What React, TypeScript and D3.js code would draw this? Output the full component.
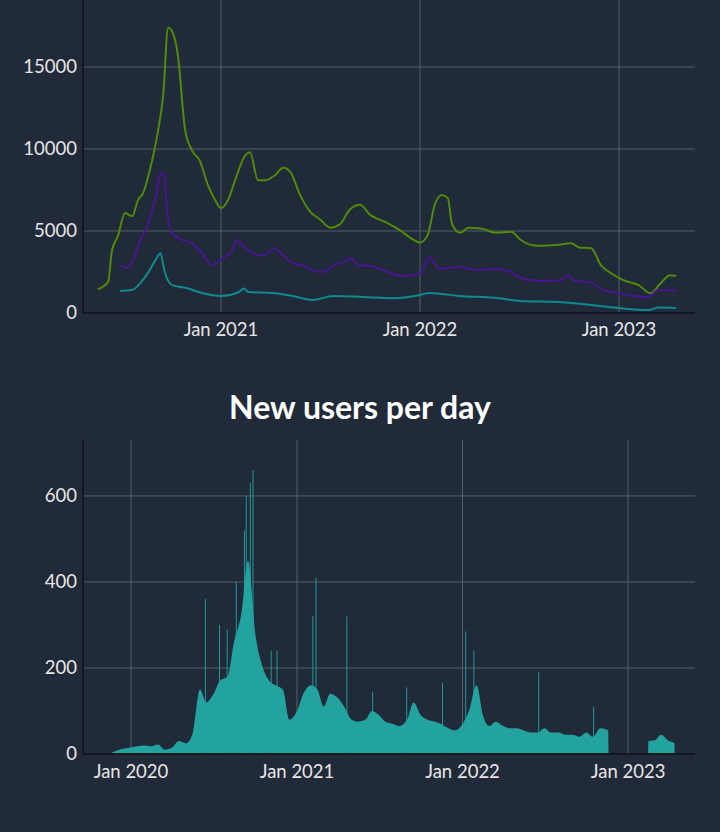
import React from "react";
import * as d3 from "d3";

type Pt = [string, number];

const greenSeries: Pt[] = [
  ["2020-05-20", 1450], ["2020-06-08", 1900], ["2020-06-15", 3800], ["2020-06-26", 4700],
  ["2020-07-09", 6100], ["2020-07-22", 5900], ["2020-08-02", 6900], ["2020-08-11", 7300],
  ["2020-08-24", 8800], ["2020-09-08", 11200], ["2020-09-17", 13300], ["2020-09-26", 17400],
  ["2020-10-03", 17200], ["2020-10-14", 15700], ["2020-10-27", 11200], ["2020-11-09", 9900],
  ["2020-11-23", 9300], ["2020-12-08", 7800], ["2020-12-21", 6900], ["2021-01-01", 6400],
  ["2021-01-14", 6900], ["2021-01-27", 8100], ["2021-02-14", 9600], ["2021-02-23", 9800],
  ["2021-03-10", 8100], ["2021-03-23", 8100], ["2021-04-10", 8400], ["2021-04-25", 8850],
  ["2021-05-08", 8600], ["2021-05-26", 7200], ["2021-06-13", 6200], ["2021-07-02", 5700],
  ["2021-07-20", 5200], ["2021-08-07", 5400], ["2021-08-25", 6300], ["2021-09-13", 6600],
  ["2021-10-01", 6000], ["2021-10-29", 5550], ["2021-11-25", 5050], ["2021-12-14", 4600],
  ["2022-01-01", 4300], ["2022-01-15", 4750], ["2022-01-28", 6600], ["2022-02-10", 7200],
  ["2022-02-21", 7000], ["2022-03-01", 5400], ["2022-03-16", 4900], ["2022-03-31", 5200],
  ["2022-04-23", 5150], ["2022-05-20", 4900], ["2022-06-17", 4950], ["2022-07-05", 4450],
  ["2022-07-24", 4150], ["2022-08-11", 4100], ["2022-09-08", 4150], ["2022-10-05", 4250],
  ["2022-10-20", 4000], ["2022-11-11", 3950], ["2022-11-29", 2900], ["2022-12-17", 2440],
  ["2023-01-09", 2000], ["2023-02-06", 1700], ["2023-02-28", 1200], ["2023-03-18", 1800],
  ["2023-04-05", 2300], ["2023-04-16", 2250],
];

const purpleSeries: Pt[] = [
  ["2020-06-30", 2900], ["2020-07-13", 2750], ["2020-07-22", 3100], ["2020-08-06", 4450],
  ["2020-08-19", 5300], ["2020-08-28", 6300], ["2020-09-06", 7500], ["2020-09-12", 8500],
  ["2020-09-19", 8400], ["2020-09-24", 6300], ["2020-10-03", 4900], ["2020-10-22", 4450],
  ["2020-11-09", 4250], ["2020-11-27", 3650], ["2020-12-16", 2900], ["2021-01-04", 3350],
  ["2021-01-22", 3850], ["2021-01-29", 4450], ["2021-02-10", 4150], ["2021-02-25", 3700],
  ["2021-03-19", 3500], ["2021-04-10", 3950], ["2021-04-25", 3500], ["2021-05-13", 3050],
  ["2021-06-01", 2900], ["2021-06-19", 2600], ["2021-07-08", 2500], ["2021-07-26", 2900],
  ["2021-08-14", 3100], ["2021-08-27", 3350], ["2021-09-10", 2900], ["2021-09-29", 2900],
  ["2021-10-26", 2600], ["2021-12-02", 2250], ["2022-01-01", 2400], ["2022-01-18", 3400],
  ["2022-02-05", 2700], ["2022-03-14", 2800], ["2022-04-20", 2600], ["2022-05-18", 2700],
  ["2022-06-20", 2440], ["2022-07-03", 2150], ["2022-08-08", 1950], ["2022-09-14", 2000],
  ["2022-10-01", 2300], ["2022-10-10", 1950], ["2022-11-06", 1900], ["2022-12-03", 1400],
  ["2022-12-31", 1200], ["2023-01-28", 1040], ["2023-02-24", 980], ["2023-03-14", 1400],
  ["2023-04-16", 1350],
];

const tealSeries: Pt[] = [
  ["2020-06-30", 1340], ["2020-07-22", 1400], ["2020-08-08", 1900], ["2020-08-23", 2600],
  ["2020-09-05", 3350], ["2020-09-12", 3650], ["2020-09-19", 2600], ["2020-10-03", 1700],
  ["2020-10-30", 1520], ["2020-11-27", 1220], ["2021-01-01", 1040], ["2021-02-03", 1280],
  ["2021-02-12", 1500], ["2021-02-20", 1280], ["2021-04-05", 1220], ["2021-05-13", 1040],
  ["2021-06-19", 800], ["2021-07-26", 1040], ["2021-09-19", 980], ["2021-11-14", 900],
  ["2022-01-01", 1100], ["2022-01-18", 1220], ["2022-03-14", 1040], ["2022-05-26", 900],
  ["2022-07-03", 730], ["2022-09-14", 670], ["2022-10-20", 560], ["2022-11-26", 430],
  ["2023-01-01", 300], ["2023-02-24", 180], ["2023-03-14", 330], ["2023-04-16", 300],
];

// new users per day: baseline level per half-month, and the single-day spikes
const usersSeg1: Pt[] = [
  ["2019-11-15", 0], ["2019-12-01", 8], ["2019-12-15", 12], ["2020-01-01", 15], ["2020-01-15", 18],
  ["2020-02-01", 20], ["2020-02-15", 18], ["2020-03-01", 22], ["2020-03-15", 10], ["2020-04-01", 15],
  ["2020-04-15", 30], ["2020-05-01", 25], ["2020-05-15", 45], ["2020-06-01", 150], ["2020-06-15", 120],
  ["2020-07-01", 140], ["2020-07-15", 170], ["2020-08-01", 180], ["2020-08-15", 260], ["2020-09-01", 330],
  ["2020-09-15", 450], ["2020-10-01", 280], ["2020-10-15", 210], ["2020-11-01", 170], ["2020-11-15", 160],
  ["2020-12-01", 150], ["2020-12-15", 80], ["2021-01-01", 100], ["2021-01-15", 140], ["2021-02-01", 160],
  ["2021-02-15", 150], ["2021-03-01", 110], ["2021-03-15", 140], ["2021-04-01", 130], ["2021-04-15", 110],
  ["2021-05-01", 80], ["2021-05-15", 75], ["2021-06-01", 80], ["2021-06-15", 100], ["2021-07-01", 90],
  ["2021-07-15", 75], ["2021-08-01", 70], ["2021-08-15", 65], ["2021-09-01", 80], ["2021-09-15", 120],
  ["2021-10-01", 90], ["2021-10-15", 80], ["2021-11-01", 75], ["2021-11-15", 70], ["2021-12-01", 60],
  ["2021-12-15", 55], ["2022-01-01", 70], ["2022-01-15", 100], ["2022-02-01", 160], ["2022-02-15", 90],
  ["2022-03-01", 65], ["2022-03-15", 75], ["2022-04-01", 65], ["2022-04-15", 60], ["2022-05-01", 60],
  ["2022-05-15", 55], ["2022-06-01", 50], ["2022-06-15", 50], ["2022-07-01", 60], ["2022-07-15", 50],
  ["2022-08-01", 50], ["2022-08-15", 45], ["2022-09-01", 45], ["2022-09-15", 40], ["2022-10-01", 50],
  ["2022-10-15", 40], ["2022-11-01", 60], ["2022-11-18", 55], ["2022-11-19", 0],
];
const usersSeg2: Pt[] = [
  ["2023-02-14", 0], ["2023-02-15", 30], ["2023-03-01", 32], ["2023-03-15", 45], ["2023-04-01", 30],
  ["2023-04-13", 25], ["2023-04-14", 0],
];
const userSpikes: Pt[] = [
  ["2020-06-12", 360], ["2020-07-13", 300], ["2020-07-30", 290], ["2020-08-19", 400],
  ["2020-09-06", 520], ["2020-09-10", 600], ["2020-09-19", 630], ["2020-09-25", 660],
  ["2020-11-04", 240], ["2020-11-17", 240], ["2021-02-04", 320], ["2021-02-11", 410],
  ["2021-04-20", 320], ["2021-06-16", 145], ["2021-08-30", 155], ["2021-11-17", 165],
  ["2022-01-07", 285], ["2022-01-25", 240], ["2022-06-17", 190], ["2022-10-16", 110],
];

const topTicks = [0, 5000, 10000, 15000];
const bottomTicks = [0, 200, 400, 600];
const topYears = ["2021-01-01", "2022-01-01", "2023-01-01"];
const bottomYears = ["2020-01-01", "2021-01-01", "2022-01-01", "2023-01-01"];

const BG = "#212a38";
const GRID = "#565e6a";
const TEXT = "#e6e6e6";
const FONT = "Lato, 'Noto Sans', sans-serif";
const parse = d3.timeParse("%Y-%m-%d");
const fmt = d3.timeFormat("%b %Y");
const d = (s: string) => parse(s) as Date;

export default function App() {
  const W = 720, H = 832;
  const L = 83, R = 695;

  // top chart
  const tx = d3.scaleTime().domain([d("2021-01-01"), d("2022-01-01")]).range([221, 420]);
  const ty = d3.scaleLinear().domain([0, 19085]).range([313, 0]);
  const tLine = d3.line<Pt>().x((p) => tx(d(p[0]))).y((p) => ty(p[1])).curve(d3.curveMonotoneX);

  // bottom chart
  const bx = d3.scaleTime().domain([d("2020-01-01"), d("2021-01-01")]).range([131, 297]);
  const by = d3.scaleLinear().domain([0, 730]).range([754, 440]);
  const bArea = d3.area<Pt>().x((p) => bx(d(p[0]))).y0(by(0)).y1((p) => by(p[1])).curve(d3.curveMonotoneX);
  const dayW = bx(d("2020-01-03")) - bx(d("2020-01-01"));

  return (
    <div style={{ position: "absolute", left: 0, top: 0 }}>
      <svg width={W} height={H} style={{ display: "block", background: BG, fontFamily: FONT }}>
        <rect width={W} height={H} fill={BG} />
        {/* top grid */}
        {topTicks.map((t) => (
          <g key={t}>
            <line x1={L} x2={R} y1={ty(t)} y2={ty(t)} stroke={GRID} />
            <text x={L - 6} y={ty(t)} dy="0.35em" textAnchor="end" fill={TEXT} fontSize={18.5}>{t}</text>
          </g>
        ))}
        {topYears.map((s) => (
          <g key={s}>
            <line x1={tx(d(s))} x2={tx(d(s))} y1={0} y2={313} stroke={GRID} />
            <text x={tx(d(s))} y={336} textAnchor="middle" fill={TEXT} fontSize={18.5}>{fmt(d(s))}</text>
          </g>
        ))}
        <path d={tLine(greenSeries) ?? ""} fill="none" stroke="#4e8b08" strokeWidth={2} />
        <path d={tLine(purpleSeries) ?? ""} fill="none" stroke="#4a1590" strokeWidth={2} />
        <path d={tLine(tealSeries) ?? ""} fill="none" stroke="#0e8b8e" strokeWidth={2} />
        <line x1={L} x2={L} y1={0} y2={313} stroke="#111821" strokeWidth={2} />
        <line x1={L} x2={R} y1={313} y2={313} stroke="#111821" strokeWidth={2} />

        {/* bottom chart */}
        <text x={360} y={419} textAnchor="middle" fill="#ffffff" fontSize={32} fontWeight="bold">New users per day</text>
        {bottomTicks.map((t) => (
          <g key={t}>
            <line x1={L} x2={R} y1={by(t)} y2={by(t)} stroke={GRID} />
            <text x={L - 6} y={by(t)} dy="0.35em" textAnchor="end" fill={TEXT} fontSize={18.5}>{t}</text>
          </g>
        ))}
        {bottomYears.map((s) => (
          <g key={s}>
            <line x1={bx(d(s))} x2={bx(d(s))} y1={440} y2={754} stroke={GRID} />
            <text x={bx(d(s))} y={778} textAnchor="middle" fill={TEXT} fontSize={18.5}>{fmt(d(s))}</text>
          </g>
        ))}
        <path d={bArea(usersSeg1) ?? ""} fill="#22a3a0" />
        <path d={bArea(usersSeg2) ?? ""} fill="#22a3a0" />
        {userSpikes.map((p) => (
          <rect key={p[0]} x={bx(d(p[0]))} width={dayW} y={by(p[1])} height={by(0) - by(p[1])} fill="#22a3a0" />
        ))}
        <line x1={L} x2={L} y1={440} y2={754} stroke="#111821" strokeWidth={2} />
        <line x1={L} x2={R} y1={754} y2={754} stroke="#111821" strokeWidth={2} />
      </svg>
    </div>
  );
}
